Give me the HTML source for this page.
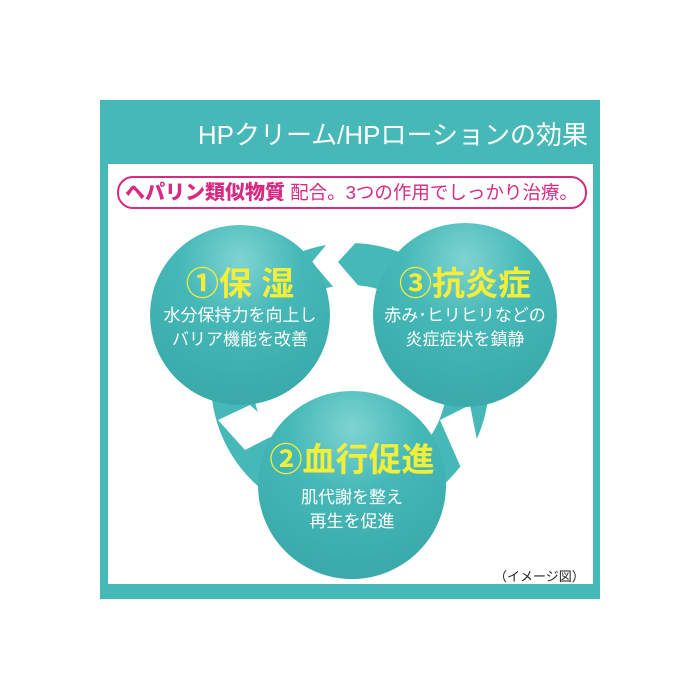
<!DOCTYPE html>
<html><head><meta charset="utf-8"><style>
body{margin:0;width:700px;height:700px;background:#fff;position:relative;overflow:hidden;font-family:"Liberation Sans","Noto Sans CJK JP",sans-serif}
.frame{position:absolute;left:100px;top:100px;width:500px;height:499px;background:#45b8b7}
.inner{position:absolute;left:108px;top:164px;width:485px;height:420px;background:#fff}
.hdr{position:absolute;right:112px;top:115px;color:#fff;font-size:26px;letter-spacing:0px}
.pill{position:absolute;left:117px;top:176px;width:460px;height:29px;border:2px solid #d62a83;border-radius:16px;color:#d62a83;font-size:18.5px;line-height:29px;white-space:nowrap;padding-left:6px;box-sizing:content-box}
.pill b{font-weight:900;font-size:20px}
.note{position:absolute;left:494px;top:566px;font-size:13px;color:#222}
svg{position:absolute;left:0;top:0}
.t{position:absolute;text-align:center;color:#fff;font-size:17px;line-height:24px;white-space:nowrap}
.y{color:#f3ee3a;font-size:33px;font-weight:bold;line-height:40px}
</style></head><body>
<div class="frame"></div><div class="inner"></div>
<div class="hdr">HPクリーム/HPローションの効果</div>
<div class="pill"><b>ヘパリン類似物質</b> 配合。3つの作用でしっかり治療。</div>
<svg width="700" height="700">
<defs><radialGradient id="g" cx="50%" cy="20%" r="75%"><stop offset="0" stop-color="#7ed4d1"/><stop offset="0.45" stop-color="#45b8b7"/><stop offset="1" stop-color="#3aabaa"/></radialGradient></defs>
<circle cx="350" cy="382" r="118" fill="none" stroke="#45b8b7" stroke-width="42"/>
<polygon points="332,238 360,238 338,262 362,290 336,290 312,262" fill="#fff"/>
<polygon points="218,420 250,405 280,432 245,450" fill="#fff"/>
<polygon points="440,420 470,405 482,465 462,470" fill="#fff"/>
<circle cx="240" cy="315" r="90" fill="url(#g)"/>
<circle cx="465" cy="315" r="92" fill="url(#g)"/>
<circle cx="352" cy="485" r="94" fill="url(#g)"/>
</svg>
<div class="t" style="left:140px;top:264px;width:200px"><div class="y">①保 湿</div>水分保持力を向上し<br>バリア機能を改善</div>
<div class="t" style="left:365px;top:264px;width:200px"><div class="y">③抗炎症</div>赤み･ヒリヒリなどの<br>炎症症状を鎮静</div>
<div class="t" style="left:252px;top:440px;width:200px"><div class="y">②血行促進</div><div style="height:6px"></div>肌代謝を整え<br>再生を促進</div>
<div class="note">（イメージ図）</div>
</body></html>
